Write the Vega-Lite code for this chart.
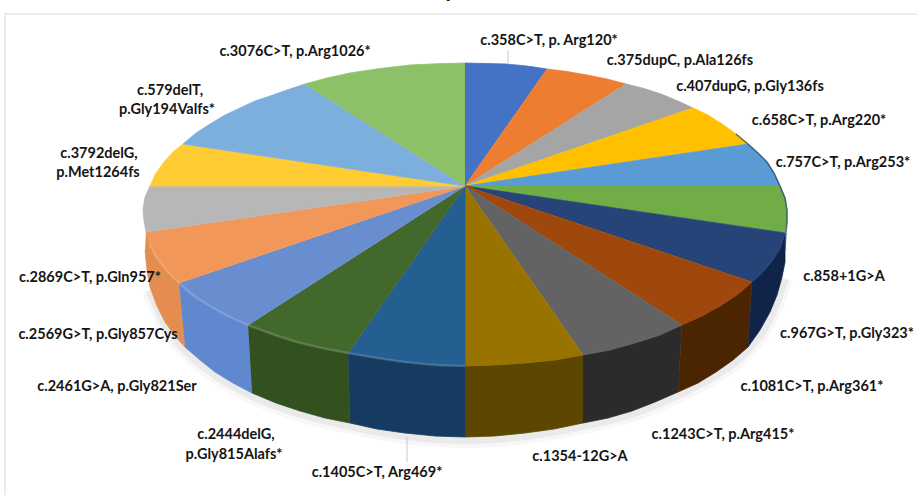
{
  "$schema": "https://vega.github.io/schema/vega-lite/v6.json",
  "width": 917,
  "height": 495,
  "padding": 0,
  "autosize": {"type": "none"},
  "background": "#ffffff",
  "view": {"stroke": null},
  "datasets": {
    "frame": [{"x": 5, "x2": 930, "y": 14, "y2": 510}],
    "heading": [{"x": 450, "y": -3, "t": "y"}],
    "shadow": [
      {"o":0,"x":150,"y":290},{"o":1,"x":165,"y":325},{"o":2,"x":185,"y":350},{"o":3,"x":215,"y":375},{"o":4,"x":252,"y":396},{"o":5,"x":300,"y":414},{"o":6,"x":350,"y":426},{"o":7,"x":405,"y":436},{"o":8,"x":465,"y":440},{"o":9,"x":525,"y":436},{"o":10,"x":583,"y":426},{"o":11,"x":632,"y":414},{"o":12,"x":678,"y":395},{"o":13,"x":716,"y":375},{"o":14,"x":748,"y":350},{"o":15,"x":772,"y":314},{"o":16,"x":785,"y":279}
    ],
    "top": [
      {"s":"c.358C>T","o":0,"x":465,"y":186},{"s":"c.358C>T","o":1,"x":465,"y":63},{"s":"c.358C>T","o":2,"x":486,"y":63.5},{"s":"c.358C>T","o":3,"x":506,"y":64},{"s":"c.358C>T","o":4,"x":527,"y":66},{"s":"c.358C>T","o":5,"x":547,"y":69},
      {"s":"c.375dupC","o":0,"x":465,"y":186},{"s":"c.375dupC","o":1,"x":547,"y":69},{"s":"c.375dupC","o":2,"x":567,"y":71.5},{"s":"c.375dupC","o":3,"x":587,"y":75},{"s":"c.375dupC","o":4,"x":607,"y":79},{"s":"c.375dupC","o":5,"x":626,"y":84},
      {"s":"c.407dupG","o":0,"x":465,"y":186},{"s":"c.407dupG","o":1,"x":626,"y":84},{"s":"c.407dupG","o":2,"x":644,"y":88.5},{"s":"c.407dupG","o":3,"x":661,"y":94},{"s":"c.407dupG","o":4,"x":678,"y":101},{"s":"c.407dupG","o":5,"x":693,"y":108},
      {"s":"c.658C>T","o":0,"x":465,"y":186},{"s":"c.658C>T","o":1,"x":693,"y":108},{"s":"c.658C>T","o":2,"x":708,"y":115},{"s":"c.658C>T","o":3,"x":722,"y":124},{"s":"c.658C>T","o":4,"x":736,"y":134},{"s":"c.658C>T","o":5,"x":748,"y":144},
      {"s":"c.757C>T","o":0,"x":465,"y":186},{"s":"c.757C>T","o":1,"x":748,"y":144},{"s":"c.757C>T","o":2,"x":758,"y":153},{"s":"c.757C>T","o":3,"x":767,"y":162},{"s":"c.757C>T","o":4,"x":774,"y":173},{"s":"c.757C>T","o":5,"x":780,"y":186},
      {"s":"c.858+1G>A","o":0,"x":465,"y":186},{"s":"c.858+1G>A","o":1,"x":780,"y":186},{"s":"c.858+1G>A","o":2,"x":785,"y":198},{"s":"c.858+1G>A","o":3,"x":787,"y":210},{"s":"c.858+1G>A","o":4,"x":787,"y":222},{"s":"c.858+1G>A","o":5,"x":785,"y":233},
      {"s":"c.967G>T","o":0,"x":465,"y":186},{"s":"c.967G>T","o":1,"x":785,"y":233},{"s":"c.967G>T","o":2,"x":781,"y":247},{"s":"c.967G>T","o":3,"x":773,"y":260},{"s":"c.967G>T","o":4,"x":763,"y":272},{"s":"c.967G>T","o":5,"x":752,"y":282},
      {"s":"c.1081C>T","o":0,"x":465,"y":186},{"s":"c.1081C>T","o":1,"x":752,"y":282},{"s":"c.1081C>T","o":2,"x":737,"y":295},{"s":"c.1081C>T","o":3,"x":720,"y":306},{"s":"c.1081C>T","o":4,"x":702,"y":316},{"s":"c.1081C>T","o":5,"x":682,"y":325},
      {"s":"c.1243C>T","o":0,"x":465,"y":186},{"s":"c.1243C>T","o":1,"x":682,"y":325},{"s":"c.1243C>T","o":2,"x":660,"y":335},{"s":"c.1243C>T","o":3,"x":635,"y":343},{"s":"c.1243C>T","o":4,"x":610,"y":350},{"s":"c.1243C>T","o":5,"x":583,"y":355},
      {"s":"c.1354-12G>A","o":0,"x":465,"y":186},{"s":"c.1354-12G>A","o":1,"x":583,"y":355},{"s":"c.1354-12G>A","o":2,"x":555,"y":360},{"s":"c.1354-12G>A","o":3,"x":525,"y":363},{"s":"c.1354-12G>A","o":4,"x":495,"y":365},{"s":"c.1354-12G>A","o":5,"x":465,"y":366},
      {"s":"c.1405C>T","o":0,"x":465,"y":186},{"s":"c.1405C>T","o":1,"x":465,"y":366},{"s":"c.1405C>T","o":2,"x":435,"y":365},{"s":"c.1405C>T","o":3,"x":405,"y":362},{"s":"c.1405C>T","o":4,"x":377,"y":358},{"s":"c.1405C>T","o":5,"x":348,"y":353},
      {"s":"c.2444delG","o":0,"x":465,"y":186},{"s":"c.2444delG","o":1,"x":348,"y":353},{"s":"c.2444delG","o":2,"x":322,"y":348},{"s":"c.2444delG","o":3,"x":297,"y":342},{"s":"c.2444delG","o":4,"x":272,"y":334},{"s":"c.2444delG","o":5,"x":248,"y":325},
      {"s":"c.2461G>A","o":0,"x":465,"y":186},{"s":"c.2461G>A","o":1,"x":248,"y":325},{"s":"c.2461G>A","o":2,"x":228,"y":316},{"s":"c.2461G>A","o":3,"x":210,"y":306},{"s":"c.2461G>A","o":4,"x":193,"y":295},{"s":"c.2461G>A","o":5,"x":179,"y":283},
      {"s":"c.2569G>T","o":0,"x":465,"y":186},{"s":"c.2569G>T","o":1,"x":179,"y":283},{"s":"c.2569G>T","o":2,"x":167,"y":271},{"s":"c.2569G>T","o":3,"x":157,"y":258},{"s":"c.2569G>T","o":4,"x":150,"y":245},{"s":"c.2569G>T","o":5,"x":146,"y":232},
      {"s":"c.2869C>T","o":0,"x":465,"y":186},{"s":"c.2869C>T","o":1,"x":146,"y":232},{"s":"c.2869C>T","o":2,"x":144,"y":221},{"s":"c.2869C>T","o":3,"x":143,"y":210},{"s":"c.2869C>T","o":4,"x":145,"y":197},{"s":"c.2869C>T","o":5,"x":150,"y":186},
      {"s":"c.3792delG","o":0,"x":465,"y":186},{"s":"c.3792delG","o":1,"x":150,"y":186},{"s":"c.3792delG","o":2,"x":156,"y":173},{"s":"c.3792delG","o":3,"x":164,"y":162},{"s":"c.3792delG","o":4,"x":173,"y":152},{"s":"c.3792delG","o":5,"x":183,"y":144},
      {"s":"c.579delT","o":0,"x":465,"y":186},{"s":"c.579delT","o":1,"x":183,"y":144},{"s":"c.579delT","o":2,"x":196,"y":133},{"s":"c.579delT","o":3,"x":210,"y":124},{"s":"c.579delT","o":4,"x":225,"y":115},{"s":"c.579delT","o":5,"x":240,"y":108},{"s":"c.579delT","o":6,"x":255,"y":101},{"s":"c.579delT","o":7,"x":270,"y":96},{"s":"c.579delT","o":8,"x":287,"y":90},{"s":"c.579delT","o":9,"x":305,"y":84},
      {"s":"c.3076C>T","o":0,"x":465,"y":186},{"s":"c.3076C>T","o":1,"x":305,"y":84},{"s":"c.3076C>T","o":2,"x":327,"y":78},{"s":"c.3076C>T","o":3,"x":350,"y":73},{"s":"c.3076C>T","o":4,"x":380,"y":68.5},{"s":"c.3076C>T","o":5,"x":410,"y":65},{"s":"c.3076C>T","o":6,"x":437,"y":63.7},{"s":"c.3076C>T","o":7,"x":465,"y":63}
    ],
    "side": [
      {"s":"c.2569G>T","o":0,"x":146,"y":232},{"s":"c.2569G>T","o":1,"x":150,"y":245},{"s":"c.2569G>T","o":2,"x":157,"y":258},{"s":"c.2569G>T","o":3,"x":167,"y":271},{"s":"c.2569G>T","o":4,"x":179,"y":283},{"s":"c.2569G>T","o":5,"x":185,"y":347},{"s":"c.2569G>T","o":6,"x":175,"y":336},{"s":"c.2569G>T","o":7,"x":165,"y":322},{"s":"c.2569G>T","o":8,"x":157,"y":306},{"s":"c.2569G>T","o":9,"x":150,"y":287},{"s":"c.2569G>T","o":10,"x":147,"y":270},{"s":"c.2569G>T","o":11,"x":145,"y":250},
      {"s":"c.2461G>A","o":0,"x":179,"y":283},{"s":"c.2461G>A","o":1,"x":193,"y":295},{"s":"c.2461G>A","o":2,"x":210,"y":306},{"s":"c.2461G>A","o":3,"x":228,"y":316},{"s":"c.2461G>A","o":4,"x":248,"y":325},{"s":"c.2461G>A","o":5,"x":252,"y":393},{"s":"c.2461G>A","o":6,"x":233,"y":383},{"s":"c.2461G>A","o":7,"x":215,"y":372},{"s":"c.2461G>A","o":8,"x":200,"y":360},{"s":"c.2461G>A","o":9,"x":185,"y":347},
      {"s":"c.2444delG","o":0,"x":248,"y":325},{"s":"c.2444delG","o":1,"x":272,"y":334},{"s":"c.2444delG","o":2,"x":297,"y":342},{"s":"c.2444delG","o":3,"x":322,"y":348},{"s":"c.2444delG","o":4,"x":348,"y":353},{"s":"c.2444delG","o":5,"x":350,"y":423},{"s":"c.2444delG","o":6,"x":325,"y":418},{"s":"c.2444delG","o":7,"x":300,"y":411},{"s":"c.2444delG","o":8,"x":276,"y":403},{"s":"c.2444delG","o":9,"x":252,"y":393},
      {"s":"c.1405C>T","o":0,"x":348,"y":353},{"s":"c.1405C>T","o":1,"x":377,"y":358},{"s":"c.1405C>T","o":2,"x":405,"y":362},{"s":"c.1405C>T","o":3,"x":435,"y":365},{"s":"c.1405C>T","o":4,"x":465,"y":366},{"s":"c.1405C>T","o":5,"x":465,"y":437},{"s":"c.1405C>T","o":6,"x":435,"y":436},{"s":"c.1405C>T","o":7,"x":405,"y":433},{"s":"c.1405C>T","o":8,"x":377,"y":429},{"s":"c.1405C>T","o":9,"x":350,"y":423},
      {"s":"c.1354-12G>A","o":0,"x":465,"y":366},{"s":"c.1354-12G>A","o":1,"x":495,"y":365},{"s":"c.1354-12G>A","o":2,"x":525,"y":363},{"s":"c.1354-12G>A","o":3,"x":555,"y":360},{"s":"c.1354-12G>A","o":4,"x":583,"y":355},{"s":"c.1354-12G>A","o":5,"x":583,"y":423},{"s":"c.1354-12G>A","o":6,"x":554,"y":429},{"s":"c.1354-12G>A","o":7,"x":525,"y":433},{"s":"c.1354-12G>A","o":8,"x":495,"y":436},{"s":"c.1354-12G>A","o":9,"x":465,"y":437},
      {"s":"c.1243C>T","o":0,"x":583,"y":355},{"s":"c.1243C>T","o":1,"x":610,"y":350},{"s":"c.1243C>T","o":2,"x":635,"y":343},{"s":"c.1243C>T","o":3,"x":660,"y":335},{"s":"c.1243C>T","o":4,"x":682,"y":325},{"s":"c.1243C>T","o":5,"x":678,"y":392},{"s":"c.1243C>T","o":6,"x":655,"y":402},{"s":"c.1243C>T","o":7,"x":632,"y":411},{"s":"c.1243C>T","o":8,"x":608,"y":418},{"s":"c.1243C>T","o":9,"x":583,"y":423},
      {"s":"c.1081C>T","o":0,"x":682,"y":325},{"s":"c.1081C>T","o":1,"x":702,"y":316},{"s":"c.1081C>T","o":2,"x":720,"y":306},{"s":"c.1081C>T","o":3,"x":737,"y":295},{"s":"c.1081C>T","o":4,"x":752,"y":282},{"s":"c.1081C>T","o":5,"x":748,"y":347},{"s":"c.1081C>T","o":6,"x":733,"y":360},{"s":"c.1081C>T","o":7,"x":716,"y":372},{"s":"c.1081C>T","o":8,"x":698,"y":383},{"s":"c.1081C>T","o":9,"x":678,"y":392},
      {"s":"c.967G>T","o":0,"x":752,"y":282},{"s":"c.967G>T","o":1,"x":763,"y":272},{"s":"c.967G>T","o":2,"x":773,"y":260},{"s":"c.967G>T","o":3,"x":781,"y":247},{"s":"c.967G>T","o":4,"x":785,"y":233},{"s":"c.967G>T","o":5,"x":785,"y":250},{"s":"c.967G>T","o":6,"x":785,"y":262},{"s":"c.967G>T","o":7,"x":782,"y":277},{"s":"c.967G>T","o":8,"x":777,"y":295},{"s":"c.967G>T","o":9,"x":770,"y":312},{"s":"c.967G>T","o":10,"x":760,"y":330},{"s":"c.967G>T","o":11,"x":748,"y":347}
    ],
    "sheen": [
      {"o":0,"x":150,"y":245},{"o":1,"x":157,"y":258},{"o":2,"x":167,"y":271},{"o":3,"x":179,"y":283},{"o":4,"x":193,"y":295},{"o":5,"x":210,"y":306},{"o":6,"x":228,"y":316},{"o":7,"x":248,"y":325},{"o":8,"x":272,"y":334},{"o":9,"x":297,"y":342},{"o":10,"x":322,"y":348},{"o":11,"x":348,"y":353},{"o":12,"x":377,"y":358},{"o":13,"x":405,"y":362},{"o":14,"x":435,"y":365},{"o":15,"x":465,"y":366}
    ],
    "rightEdge": [
      {"o":0,"x":736,"y":134},{"o":1,"x":748,"y":144},{"o":2,"x":758,"y":153},{"o":3,"x":767,"y":162},{"o":4,"x":774,"y":173},{"o":5,"x":780,"y":186},{"o":6,"x":785,"y":198},{"o":7,"x":787,"y":210},{"o":8,"x":787,"y":222},{"o":9,"x":786,"y":233},{"o":10,"x":785,"y":250}
    ],
    "leaders": [
      {"x":508,"y":50,"y2":63},
      {"x":407,"y":437,"y2":462}
    ],
    "labels": [
      {"x":295,"y":52,"t":"c.3076C>T, p.Arg1026*"},
      {"x":549,"y":41,"t":"c.358C>T, p. Arg120*"},
      {"x":680,"y":61,"t":"c.375dupC, p.Ala126fs"},
      {"x":750,"y":87,"t":"c.407dupG, p.Gly136fs"},
      {"x":819,"y":121,"t":"c.658C>T, p.Arg220*"},
      {"x":843,"y":163,"t":"c.757C>T,  p.Arg253*"},
      {"x":170,"y":91,"t":"c.579delT,"},
      {"x":167,"y":110,"t":"p.Gly194Valfs*"},
      {"x":99,"y":154,"t":"c.3792delG,"},
      {"x":98,"y":173,"t":"p.Met1264fs"},
      {"x":90,"y":278,"t":"c.2869C>T, p.Gln957*"},
      {"x":98,"y":335,"t":"c.2569G>T, p.Gly857Cys"},
      {"x":117,"y":387,"t":"c.2461G>A, p.Gly821Ser"},
      {"x":236,"y":435,"t":"c.2444delG,"},
      {"x":234,"y":455,"t":"p.Gly815Alafs*"},
      {"x":377,"y":473,"t":"c.1405C>T, Arg469*"},
      {"x":580,"y":457,"t":"c.1354-12G>A"},
      {"x":723,"y":435,"t":"c.1243C>T, p.Arg415*"},
      {"x":812,"y":387,"t":"c.1081C>T, p.Arg361*"},
      {"x":847,"y":334,"t":"c.967G>T, p.Gly323*"},
      {"x":844,"y":277,"t":"c.858+1G>A"}
    ]
  },
  "encoding": {
    "x": {"field": "x", "type": "quantitative", "axis": null, "scale": {"domain": [0, 917], "range": [0, 917], "nice": false, "zero": false}},
    "y": {"field": "y", "type": "quantitative", "axis": null, "scale": {"domain": [0, 495], "range": [0, 495], "nice": false, "zero": false}}
  },
  "layer": [
    {
      "data": {"name": "frame"},
      "mark": {"type": "rect", "fill": null, "stroke": "#e6e6e6", "strokeWidth": 1.5},
      "encoding": {"x2": {"field": "x2"}, "y2": {"field": "y2"}}
    },
    {
      "data": {"name": "heading"},
      "mark": {"type": "text", "font": "Lato", "fontWeight": "bold", "fontSize": 24, "align": "center", "baseline": "alphabetic", "fill": "#111111"},
      "encoding": {"text": {"field": "t"}}
    },
    {
      "data": {"name": "shadow"},
      "mark": {"type": "line", "stroke": "#000000", "strokeWidth": 16, "opacity": 0.03, "interpolate": "monotone"},
      "encoding": {"order": {"field": "o"}}
    },
    {
      "data": {"name": "shadow"},
      "mark": {"type": "line", "stroke": "#000000", "strokeWidth": 8, "opacity": 0.05, "interpolate": "monotone"},
      "encoding": {"order": {"field": "o"}}
    },
    {
      "data": {"name": "side"},
      "mark": {"type": "line", "strokeWidth": 0.8, "strokeJoin": "round"},
      "encoding": {
        "order": {"field": "o"},
        "fill": {"field": "s", "legend": null, "scale": {"domain": ["c.967G>T","c.1081C>T","c.1243C>T","c.1354-12G>A","c.1405C>T","c.2444delG","c.2461G>A","c.2569G>T"], "range": ["#0f2448","#4b2402","#2b2b2b","#5c4600","#153c60","#33501f","#6088cf","#e58d50"]}},
        "stroke": {"field": "s", "legend": null, "scale": {"domain": ["c.967G>T","c.1081C>T","c.1243C>T","c.1354-12G>A","c.1405C>T","c.2444delG","c.2461G>A","c.2569G>T"], "range": ["#0f2448","#4b2402","#2b2b2b","#5c4600","#153c60","#33501f","#6088cf","#e58d50"]}}
      }
    },
    {
      "data": {"name": "top"},
      "mark": {"type": "line", "strokeWidth": 0.8, "strokeJoin": "round"},
      "encoding": {
        "order": {"field": "o"},
        "fill": {"field": "s", "legend": null, "scale": {"domain": ["c.358C>T","c.375dupC","c.407dupG","c.658C>T","c.757C>T","c.858+1G>A","c.967G>T","c.1081C>T","c.1243C>T","c.1354-12G>A","c.1405C>T","c.2444delG","c.2461G>A","c.2569G>T","c.2869C>T","c.3792delG","c.579delT","c.3076C>T"], "range": ["#4472c4","#ed7d31","#a5a5a5","#ffc000","#5b9bd5","#70ad47","#264478","#9e480e","#636363","#997300","#255e91","#43682b","#698ed0","#f1975a","#b7b7b7","#ffcd33","#7cafdd","#8cc168"]}},
        "stroke": {"field": "s", "legend": null, "scale": {"domain": ["c.358C>T","c.375dupC","c.407dupG","c.658C>T","c.757C>T","c.858+1G>A","c.967G>T","c.1081C>T","c.1243C>T","c.1354-12G>A","c.1405C>T","c.2444delG","c.2461G>A","c.2569G>T","c.2869C>T","c.3792delG","c.579delT","c.3076C>T"], "range": ["#4472c4","#ed7d31","#a5a5a5","#ffc000","#5b9bd5","#70ad47","#264478","#9e480e","#636363","#997300","#255e91","#43682b","#698ed0","#f1975a","#b7b7b7","#ffcd33","#7cafdd","#8cc168"]}}
      }
    },
    {
      "data": {"name": "sheen"},
      "mark": {"type": "line", "stroke": "#ffffff", "strokeWidth": 2.5, "opacity": 0.15, "interpolate": "monotone"},
      "encoding": {"order": {"field": "o"}}
    },
    {
      "data": {"name": "rightEdge"},
      "mark": {"type": "line", "stroke": "#1f3f5f", "strokeWidth": 1.5, "opacity": 0.7},
      "encoding": {"order": {"field": "o"}}
    },
    {
      "data": {"name": "leaders"},
      "mark": {"type": "rule", "stroke": "#c9c9c9", "strokeWidth": 1},
      "encoding": {"y2": {"field": "y2"}}
    },
    {
      "data": {"name": "labels"},
      "mark": {"type": "text", "font": "Lato", "fontWeight": "bold", "fontSize": 14.5, "align": "center", "baseline": "middle", "fill": "#151515"},
      "encoding": {"text": {"field": "t"}}
    }
  ],
  "resolve": {"scale": {"fill": "independent", "stroke": "independent"}}
}
